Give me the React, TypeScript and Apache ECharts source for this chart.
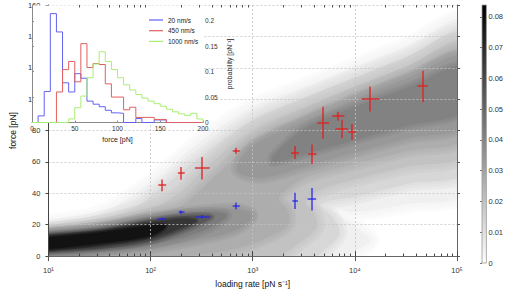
import React, { useEffect, useRef } from "react";
import * as echarts from "echarts";

// ---------------- main axes ----------------
const RATE_MIN = 10;
const RATE_MAX = 100000;
const FORCE_MIN = 0;
const FORCE_MAX = 160;
const FORCE_STEP = 20;
const EXPONENT_SUPERSCRIPTS = ["⁰", "¹", "²", "³", "⁴", "⁵"];
const RATE_MINOR_TICKS = [
  20, 30, 40, 50, 60, 70, 80, 90,
  200, 300, 400, 500, 600, 700, 800, 900,
  2000, 3000, 4000, 5000, 6000, 7000, 8000, 9000,
  20000, 30000, 40000, 50000, 60000, 70000, 80000, 90000,
];

// ---------------- rupture force points (red / blue crosses) ----------------
const RED_RATE = [130, 200, 321, 690, 2590, 3800, 4890, 6890, 7460, 9310, 14200, 46000];
const RED_FORCE = [45.1, 52.7, 56.0, 67.0, 66.0, 64.9, 84.9, 89.1, 81.0, 79.2, 100.1, 108.1];
const RED_RATE_LOW = [119, 185, 272, 638, 2370, 3470, 4300, 6020, 6460, 8600, 11600, 41000];
const RED_RATE_HIGH = [142, 216, 379, 748, 2840, 4210, 5600, 7890, 8600, 10310, 17300, 51700];
const RED_FORCE_ERR = [3.7, 4.1, 7.2, 2.0, 4.2, 6.2, 10.2, 2.8, 5.9, 5.0, 8.0, 10.0];

const BLUE_RATE = [130, 200, 321, 690, 2600, 3800];
const BLUE_FORCE = [23.8, 27.9, 25.0, 32.0, 35.2, 36.2];
const BLUE_RATE_LOW = [117, 188, 274, 638, 2445, 3450];
const BLUE_RATE_HIGH = [142, 215, 379, 748, 2773, 4180];
const BLUE_FORCE_ERR = [0.8, 1.2, 1.2, 2.2, 5.2, 7.2];

// ---------------- density map (filled contours, [loading rate, force]) ----------------
const CONTOUR_0 = [[8, -3], [8, 21], [10, 21], [32, 27], [100, 47], [320, 74], [1000, 95], [3200, 108], [10000, 121], [32000, 134], [120000, 149], [120000, 42], [32000, 33], [10000, 28], [6000, 30], [10000, 19], [14000, 10], [10000, 3], [7000, -3]];
const CONTOUR_1 = [[8, -3], [8, 18], [10, 18], [32, 23.5], [70, 31], [100, 38], [320, 64], [1000, 87], [3200, 101], [10000, 114], [32000, 127], [120000, 142], [120000, 55], [32000, 46], [10000, 38], [4600, 33], [6000, 25], [7000, 14], [5000, 4], [3500, -3]];
const CONTOUR_2 = [[8, -3], [8, 16.5], [10, 16.5], [32, 21], [100, 30], [200, 41], [320, 54], [1000, 80], [3200, 95], [10000, 108], [32000, 121], [120000, 136], [120000, 66], [32000, 57], [10000, 49], [4500, 42], [3300, 35], [4000, 27], [4200, 18], [2800, 8], [1400, -3]];
const CONTOUR_3 = [[8, -3], [8, 15.5], [10, 15.5], [32, 19.5], [100, 26.5], [200, 32], [320, 43], [560, 58], [1000, 73], [3200, 89], [10000, 103], [32000, 116], [120000, 130], [120000, 76], [32000, 67], [10000, 59], [3200, 50], [2200, 43], [1800, 36], [2200, 29], [2200, 20], [1400, 12], [700, 5], [300, 1], [100, -1], [40, -3]];
const CONTOUR_4A = [[8, -3], [8, 15], [10, 15], [32, 18.5], [100, 24.5], [320, 29], [700, 30], [1000, 26], [700, 17], [320, 11], [100, 5], [32, 2], [16, -3]];
const CONTOUR_4B = [[700, 55], [1000, 70], [3200, 86], [10000, 100], [32000, 113], [120000, 127], [120000, 84], [32000, 75], [10000, 66], [3200, 57], [1200, 50]];
const CONTOUR_5A = [[8, 0.5], [8, 14.5], [10, 14.5], [32, 18], [100, 24], [320, 28], [560, 26], [320, 16], [100, 7.5], [32, 3.5], [10, 1]];
const CONTOUR_5B = [[1600, 64], [3200, 81], [10000, 95], [32000, 107], [120000, 121], [120000, 93], [32000, 83], [10000, 74], [3200, 65], [1600, 60]];
const CONTOUR_6 = [[8, 2], [8, 14], [10, 14], [32, 17], [100, 23], [250, 26], [400, 25], [250, 18], [100, 9], [32, 4.5], [10, 2.5]];
const CONTOUR_7 = [[8, 3], [8, 13], [10, 13], [32, 16], [100, 21.5], [220, 24], [280, 22.5], [200, 18], [100, 11], [32, 6], [10, 3.5]];
const CONTOUR_8 = [[8, 4], [8, 12], [10, 12], [32, 15], [100, 19.5], [140, 19], [100, 13], [32, 8], [10, 4.5]];
const CONTOURS = [CONTOUR_0, CONTOUR_1, CONTOUR_2, CONTOUR_3, CONTOUR_4A, CONTOUR_4B, CONTOUR_5A, CONTOUR_5B, CONTOUR_6, CONTOUR_7, CONTOUR_8];
const CONTOUR_DENSITY = [0.005, 0.013, 0.02, 0.027, 0.035, 0.034, 0.043, 0.041, 0.055, 0.066, 0.078];

// ---------------- colour bar ----------------
const CBAR_MAX = 0.0839;
const CBAR_STEP = 0.01;

// ---------------- inset histograms ----------------
const HIST_NAMES = ["20 nm/s", "450 nm/s", "1000 nm/s"];
const BIN_EDGES = [0, 7.14, 14.29, 21.43, 28.57, 35.71, 42.86, 50, 57.14, 64.29, 71.43, 78.57, 85.71, 92.86, 100, 107.14, 114.29, 121.43, 128.57, 135.71, 142.86, 150, 157.14, 164.29, 171.43, 178.57, 185.71, 192.86, 200];
const HIST_20 = [0, 0.013, 0.061, 0.214, 0.178, 0.078, 0.06, 0.096, 0.087, 0.042, 0.036, 0.031, 0.024, 0.019, 0.018, 0, 0, 0.008, 0, 0, 0.005, 0.005, 0, 0, 0, 0, 0, 0];
const HIST_450 = [0, 0, 0, 0, 0.06, 0.104, 0.12, 0.08, 0.155, 0.108, 0.116, 0.114, 0.076, 0.05, 0.05, 0.025, 0.03, 0.01, 0.01, 0.01, 0.006, 0.006, 0, 0, 0, 0, 0, 0];
const HIST_1000 = [0, 0, 0, 0, 0, 0, 0.007, 0.029, 0.052, 0.088, 0.115, 0.139, 0.12, 0.104, 0.088, 0.074, 0.064, 0.055, 0.048, 0.042, 0.037, 0.032, 0.026, 0.021, 0.017, 0.014, 0.018, 0.007];
const INSET_F_MAX = 200;
const INSET_F_STEP = 50;
const INSET_P_MAX = 0.23;
const INSET_P_STEP = 0.05;

// ---------------- styling ----------------
const FONT = "'Liberation Sans', Arial, Helvetica, sans-serif";
const HIST_COLORS = ["#6262f2", "#e35e5e", "#a8ef72"];
const RED_CROSS = "#e02020";
const BLUE_CROSS = "#2828e8";
const CROSS_WIDTH = 1.3;
// soft edge of each contour: halo strokes (widths) drawn beneath the fill
const HALO_WIDTHS = [[18, 12, 6], [16, 10, 5], [16, 10, 5], [14, 9, 4], [12, 8, 4], [12, 8, 4], [10, 6, 3], [10, 6, 3], [6, 4, 2], [5, 3, 2], [5, 3, 2]];
const HALO_OPACITY = 0.28;

function grayFor(d: number): string {
  const g = Math.round(255 * (1 - Math.min(d / CBAR_MAX, 1)));
  return `rgb(${g},${g},${g})`;
}

function crisp(v: number): number {
  return Math.round(v - 0.5) + 0.5;
}

function histPoints(values: number[]) {
  return BIN_EDGES.map((e, k) => [e, k < values.length ? values[k] : 0]);
}

function crossData(rate: number[], force: number[], lo: number[], hi: number[], err: number[]) {
  return rate.map((r, i) => [r, force[i], lo[i], hi[i], err[i]]);
}

function crossRenderer(color: string) {
  return (params: any, api: any) => {
    const r = api.value(0);
    const f = api.value(1);
    const c = api.coord([r, f]);
    const lo = api.coord([api.value(2), f]);
    const hi = api.coord([api.value(3), f]);
    const top = api.coord([r, f + api.value(4)]);
    const bot = api.coord([r, f - api.value(4)]);
    const cx = Math.round(c[0]);
    const cy = Math.round(c[1]);
    return {
      type: "group",
      children: [
        { type: "line", shape: { x1: lo[0], y1: cy, x2: hi[0], y2: cy }, style: { stroke: color, lineWidth: CROSS_WIDTH, fill: null } },
        { type: "line", shape: { x1: cx, y1: top[1], x2: cx, y2: bot[1] }, style: { stroke: color, lineWidth: CROSS_WIDTH, fill: null } },
      ],
    };
  };
}

function buildOption(): any {
  const fmtProb = (v: number) => (v === 0 ? "0" : String(Math.round(v * 100) / 100));
  return {
    animation: false,
    backgroundColor: "#ffffff",
    textStyle: { fontFamily: FONT },
    grid: [
      { left: 29, top: 5, width: 428, height: 258 },
      { left: 482, top: 5, width: 7, height: 258 },
      { left: 32, top: 5.5, width: 171, height: 117 },
    ],
    legend: {
      data: HIST_NAMES,
      orient: "vertical",
      left: 144,
      top: 11,
      icon: "rect",
      itemWidth: 14,
      itemHeight: 1.2,
      itemGap: 2.7,
      z: 20,
      textStyle: { fontSize: 6.5, color: "#222", fontFamily: FONT, lineHeight: 8 },
    },
    xAxis: [
      {
        type: "log", gridIndex: 0, min: RATE_MIN, max: RATE_MAX, logBase: 10, z: 2,
        name: "loading rate [pN s⁻¹]", nameLocation: "middle", nameGap: 19,
        nameTextStyle: { fontSize: 8.5, color: "#111", fontFamily: FONT },
        axisLine: { lineStyle: { color: "#444", width: 1 } },
        axisTick: { inside: true, length: 5, lineStyle: { color: "#444" } },
        axisLabel: {
          fontSize: 7.5, color: "#333", margin: 10, fontFamily: FONT,
          formatter: (v: number) => "10" + EXPONENT_SUPERSCRIPTS[Math.round(Math.log10(v))],
        },
        splitLine: { show: true, lineStyle: { color: "#c4c4c4", type: [2, 2], width: 0.8 } },
      },
      {
        type: "log", gridIndex: 0, min: RATE_MIN, max: RATE_MAX, logBase: 10, position: "top", z: 2,
        axisLine: { lineStyle: { color: "#666", width: 1 } },
        axisTick: { inside: true, length: 5, lineStyle: { color: "#555" } },
        axisLabel: { show: false },
        splitLine: { show: false },
      },
      { type: "value", gridIndex: 1, min: 0, max: 1, show: false },
      {
        type: "value", gridIndex: 2, min: 0, max: INSET_F_MAX, interval: INSET_F_STEP, z: 4,
        name: "force [pN]", nameLocation: "middle", nameGap: 13,
        nameTextStyle: { fontSize: 7, color: "#222", fontFamily: FONT },
        axisLine: { lineStyle: { color: "#8a8a8a", width: 1 } },
        axisTick: { inside: true, length: 2, lineStyle: { color: "#8a8a8a" } },
        axisLabel: { fontSize: 6.5, color: "#333", margin: 2, fontFamily: FONT },
        splitLine: { show: false },
      },
    ],
    yAxis: [
      {
        type: "value", gridIndex: 0, min: FORCE_MIN, max: FORCE_MAX, interval: FORCE_STEP, z: 2,
        name: "force [pN]", nameLocation: "middle", nameGap: 22, nameRotate: 90,
        nameTextStyle: { fontSize: 8.5, color: "#111", fontFamily: FONT },
        axisLine: { show: true, lineStyle: { color: "#444", width: 1 } },
        axisTick: { show: true, inside: false, length: 3, lineStyle: { color: "#444" } },
        axisLabel: { fontSize: 7.5, color: "#333", margin: 8, fontFamily: FONT },
        splitLine: { show: true, lineStyle: { color: "#c4c4c4", type: [2, 2], width: 0.8 } },
      },
      {
        type: "value", gridIndex: 0, min: FORCE_MIN, max: FORCE_MAX, interval: FORCE_STEP, position: "right", z: 2,
        axisLine: { show: true, lineStyle: { color: "#666", width: 1 } },
        axisTick: { show: true, inside: false, length: 3, lineStyle: { color: "#555" } },
        axisLabel: { show: false },
        splitLine: { show: false },
      },
      {
        type: "value", gridIndex: 1, min: 0, max: CBAR_MAX, interval: CBAR_STEP, position: "right", z: 2,
        axisLine: { show: false },
        axisTick: { show: true, inside: true, length: 2, lineStyle: { color: "#777" } },
        axisLabel: { fontSize: 7.5, color: "#333", margin: 2, fontFamily: FONT, formatter: fmtProb, showMaxLabel: false },
        splitLine: { show: false },
      },
      {
        type: "value", gridIndex: 2, min: 0, max: INSET_P_MAX, interval: INSET_P_STEP, position: "right", z: 4,
        name: "probability [pN⁻¹]", nameLocation: "middle", nameGap: 23, nameRotate: 90,
        nameTextStyle: { fontSize: 7, color: "#222", fontFamily: FONT },
        axisLine: { show: true, lineStyle: { color: "#8a8a8a", width: 1 } },
        axisTick: { show: true, inside: false, length: 2, lineStyle: { color: "#8a8a8a" } },
        axisLabel: { fontSize: 6.5, color: "#333", margin: 2, fontFamily: FONT, formatter: fmtProb, showMaxLabel: false },
        splitLine: { show: false },
      },
    ],
    series: [
      {
        type: "custom", xAxisIndex: 0, yAxisIndex: 0, z: 1, silent: true,
        data: [[RATE_MIN, FORCE_MIN]],
        renderItem: (params: any, api: any) => {
          const cs = params.coordSys;
          const children: any[] = [];
          CONTOURS.forEach((poly, i) => {
            const col = grayFor(CONTOUR_DENSITY[i]);
            const pts = poly.map((p) => api.coord(p));
            HALO_WIDTHS[i].forEach((w) => {
              children.push({
                type: "polygon",
                shape: { points: pts, smooth: 0.35 },
                style: { fill: null, stroke: col, lineWidth: w, lineJoin: "round", opacity: HALO_OPACITY },
              });
            });
            children.push({
              type: "polygon",
              shape: { points: pts, smooth: 0.35 },
              style: { fill: col },
            });
          });
          return {
            type: "group",
            clipPath: { type: "rect", shape: { x: cs.x, y: cs.y, width: cs.width, height: cs.height } },
            children,
          };
        },
      },
      {
        type: "custom", xAxisIndex: 2, yAxisIndex: 2, z: 2, silent: true,
        data: [[0, 0]],
        renderItem: (params: any) => {
          const cs = params.coordSys;
          return {
            type: "rect",
            shape: { x: cs.x, y: cs.y, width: cs.width, height: cs.height },
            style: {
              fill: new echarts.graphic.LinearGradient(0, 0, 0, 1, [
                { offset: 0, color: grayFor(CBAR_MAX) },
                { offset: 1, color: "#ffffff" },
              ]),
              stroke: "#9a9a9a",
              lineWidth: 0.8,
            },
          };
        },
      },
      {
        type: "custom", xAxisIndex: 3, yAxisIndex: 3, z: 3, silent: true,
        data: [[0, 0]],
        renderItem: (params: any) => {
          const cs = params.coordSys;
          return { type: "rect", shape: { x: cs.x, y: cs.y, width: cs.width, height: cs.height }, style: { fill: "#ffffff" } };
        },
      },
      ...[HIST_20, HIST_450, HIST_1000].map((vals, i) => ({
        type: "line", name: HIST_NAMES[i], xAxisIndex: 3, yAxisIndex: 3, z: 5,
        step: "end", symbol: "none", data: histPoints(vals),
        lineStyle: { color: HIST_COLORS[i], width: 1 }, itemStyle: { color: HIST_COLORS[i] },
      })),
      {
        type: "custom", xAxisIndex: 0, yAxisIndex: 0, z: 6, silent: true,
        data: crossData(RED_RATE, RED_FORCE, RED_RATE_LOW, RED_RATE_HIGH, RED_FORCE_ERR),
        encode: { x: 0, y: 1 },
        renderItem: crossRenderer(RED_CROSS),
      },
      {
        type: "custom", xAxisIndex: 0, yAxisIndex: 0, z: 6, silent: true,
        data: crossData(BLUE_RATE, BLUE_FORCE, BLUE_RATE_LOW, BLUE_RATE_HIGH, BLUE_FORCE_ERR),
        encode: { x: 0, y: 1 },
        renderItem: crossRenderer(BLUE_CROSS),
      },
      {
        type: "custom", xAxisIndex: 0, yAxisIndex: 0, z: 6, silent: true,
        data: RATE_MINOR_TICKS.map((r) => [r, FORCE_MIN]),
        encode: { x: 0, y: 1 },
        renderItem: (params: any, api: any) => {
          const cs = params.coordSys;
          const x = crisp(api.coord([api.value(0), FORCE_MIN])[0]);
          return {
            type: "group",
            children: [
              { type: "line", shape: { x1: x, y1: cs.y + cs.height, x2: x, y2: cs.y + cs.height - 2.5 }, style: { stroke: "#444", lineWidth: 1 } },
              { type: "line", shape: { x1: x, y1: cs.y, x2: x, y2: cs.y + 2.5 }, style: { stroke: "#555", lineWidth: 1 } },
            ],
          };
        },
      },
    ],
  };
}

export default function App() {
  const ref = useRef<HTMLDivElement>(null);
  useEffect(() => {
    const chart = echarts.init(ref.current as HTMLDivElement, null, { renderer: "svg" });
    chart.setOption(buildOption());
    return () => chart.dispose();
  }, []);
  return (
    <div
      ref={ref}
      style={{ position: "absolute", left: 0, top: 0, width: 506, height: 293, background: "#fff" }}
    />
  );
}
